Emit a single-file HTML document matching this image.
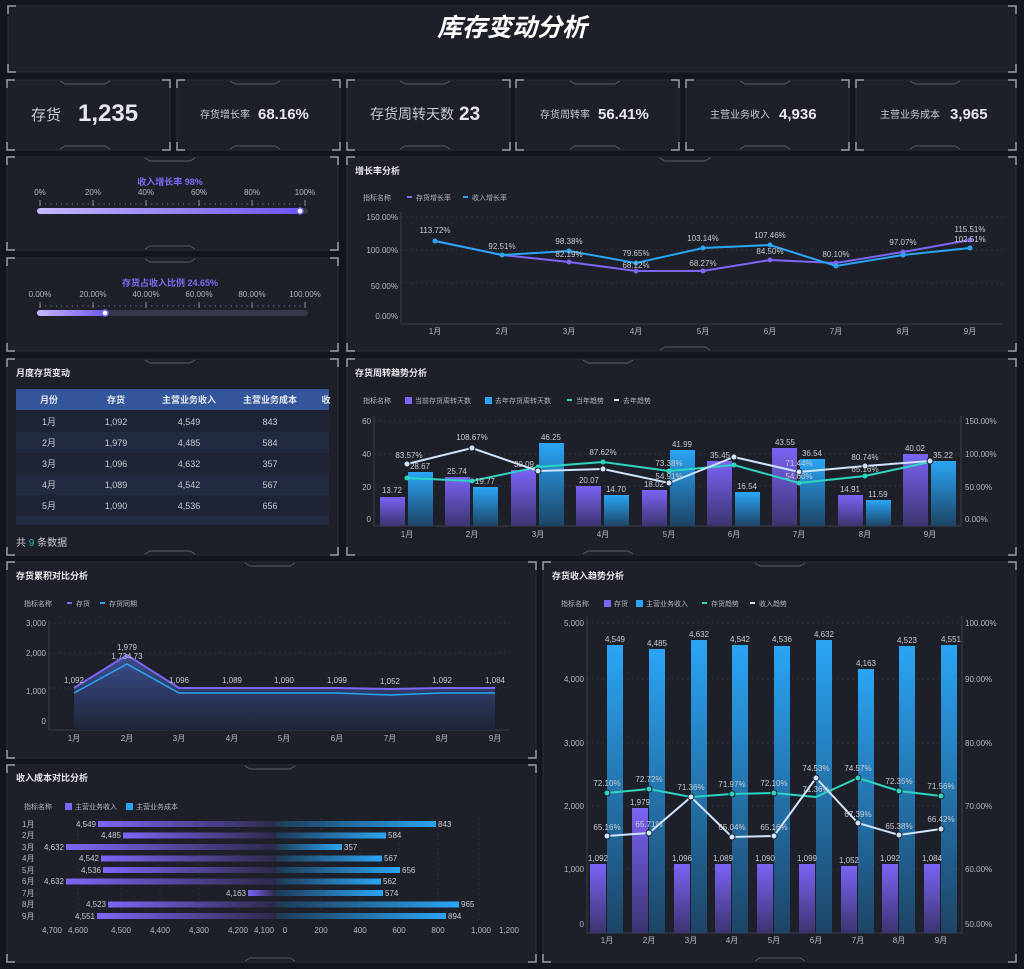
<!DOCTYPE html>
<html><head><meta charset="utf-8">
<style>
html,body{margin:0;padding:0;background:#14161d;}
svg{display:block;font-family:"Liberation Sans","Noto Sans CJK SC",sans-serif;}
.p{fill:#1e2029;stroke:#2b2e38;stroke-width:1}
.c{fill:none;stroke:#9a9da6;stroke-width:1.5}
.t{fill:#e8e8ec;font-size:9px;font-weight:bold}
.ax{fill:#b4b6bd;font-size:8px}
.lg{fill:#b4b6bd;font-size:7px}
.lb{fill:#c8cad0;font-size:8px}
.g{stroke:#2e313b;stroke-width:1;stroke-dasharray:2 3}
.kl{fill:#c8cad0}
.kv{fill:#e6e7ea;font-weight:bold}
</style></head><body>
<svg width="1024" height="969" viewBox="0 0 1024 969">
<defs>
<linearGradient id="gp" x1="0" y1="0" x2="0" y2="1"><stop offset="0" stop-color="#7a63f5"/><stop offset="1" stop-color="#3c3470"/></linearGradient>
<linearGradient id="gb" x1="0" y1="0" x2="0" y2="1"><stop offset="0" stop-color="#2aa5f5"/><stop offset="1" stop-color="#1d4466"/></linearGradient>
<linearGradient id="ga" x1="0" y1="0" x2="0" y2="1"><stop offset="0" stop-color="#3b4f8e"/><stop offset="1" stop-color="#1e2438"/></linearGradient>
<linearGradient id="hl" x1="0" y1="0" x2="1" y2="0"><stop offset="0" stop-color="#7b66f6"/><stop offset="1" stop-color="#2c2a4a"/></linearGradient>
<linearGradient id="hr" x1="0" y1="0" x2="1" y2="0"><stop offset="0" stop-color="#1f3a55"/><stop offset="1" stop-color="#2aa5f5"/></linearGradient>
<linearGradient id="bar" x1="0" y1="0" x2="1" y2="0"><stop offset="0" stop-color="#c6b8ff"/><stop offset="1" stop-color="#6c55f2"/></linearGradient>
</defs>

<!-- panels -->
<g>
<rect class="p" x="8" y="6" width="1008" height="66"/>
<rect class="p" x="7" y="80" width="163" height="70"/>
<rect class="p" x="177" y="80" width="163" height="70"/>
<rect class="p" x="347" y="80" width="163" height="70"/>
<rect class="p" x="516" y="80" width="163" height="70"/>
<rect class="p" x="686" y="80" width="163" height="70"/>
<rect class="p" x="856" y="80" width="160" height="70"/>
<rect class="p" x="7" y="157" width="331" height="93"/>
<rect class="p" x="7" y="258" width="331" height="93"/>
<rect class="p" x="347" y="157" width="669" height="194"/>
<rect class="p" x="7" y="359" width="331" height="196"/>
<rect class="p" x="347" y="359" width="669" height="196"/>
<rect class="p" x="7" y="562" width="529" height="196"/>
<rect class="p" x="7" y="765" width="529" height="197"/>
<rect class="p" x="543" y="562" width="473" height="400"/>
</g>
<!-- corner marks -->
<g class="c">
<path d="M8,14V6H16M1008,6H1016V14M8,64V72H16M1008,72H1016V64"/>
<path d="M7,88V80H15M162,80H170V88M7,142V150H15M162,150H170V142"/>
<path d="M177,88V80H185M332,80H340V88M177,142V150H185M332,150H340V142"/>
<path d="M347,88V80H355M502,80H510V88M347,142V150H355M502,150H510V142"/>
<path d="M516,88V80H524M671,80H679V88M516,142V150H524M671,150H679V142"/>
<path d="M686,88V80H694M841,80H849V88M686,142V150H694M841,150H849V142"/>
<path d="M856,88V80H864M1008,80H1016V88M856,142V150H864M1008,150H1016V142"/>
<path d="M7,165V157H15M330,157H338V165M7,242V250H15M330,250H338V242"/>
<path d="M7,266V258H15M330,258H338V266M7,343V351H15M330,351H338V343"/>
<path d="M347,165V157H355M1008,157H1016V165M347,343V351H355M1008,351H1016V343"/>
<path d="M7,367V359H15M330,359H338V367M7,547V555H15M330,555H338V547"/>
<path d="M347,367V359H355M1008,359H1016V367M347,547V555H355M1008,555H1016V547"/>
<path d="M7,570V562H15M528,562H536V570M7,750V758H15M528,758H536V750"/>
<path d="M7,773V765H15M528,765H536V773M7,954V962H15M528,962H536V954"/>
<path d="M543,570V562H551M1008,562H1016V570M543,954V962H551M1008,962H1016V954"/>
</g>
<g stroke="#5a5d66" fill="none" stroke-width="1">
<path d="M60,81l5,3h40l5,-3M60,149l5,-3h40l5,3M230,81l5,3h40l5,-3M230,149l5,-3h40l5,3M400,81l5,3h40l5,-3M400,149l5,-3h40l5,3M570,81l5,3h40l5,-3M570,149l5,-3h40l5,3M740,81l5,3h40l5,-3M740,149l5,-3h40l5,3M910,81l5,3h40l5,-3M910,149l5,-3h40l5,3"/>
<path d="M145,158l5,3h40l5,-3M145,249l5,-3h40l5,3M145,259l5,3h40l5,-3M145,360l5,3h40l5,-3M145,554l5,-3h40l5,3M660,158l5,3h40l5,-3M660,350l5,-3h40l5,3M583,360l5,3h40l5,-3M583,554l5,-3h40l5,3M245,563l5,3h40l5,-3M245,766l5,3h40l5,-3M245,961l5,-3h40l5,3M755,563l5,3h40l5,-3M755,961l5,-3h40l5,3"/>
</g>

<!-- title -->
<text x="512" y="36" text-anchor="middle" fill="#fff" font-size="25" font-weight="bold" font-style="italic">库存变动分析</text>

<!-- KPIs -->
<text x="31" y="120" class="kl" font-size="15">存货</text>
<text x="78" y="121" class="kv" font-size="24">1,235</text>
<text x="200" y="118" class="kl" font-size="10">存货增长率</text>
<text x="258" y="119" class="kv" font-size="15">68.16%</text>
<text x="370" y="119" class="kl" font-size="14">存货周转天数</text>
<text x="459" y="120" class="kv" font-size="19">23</text>
<text x="540" y="118" class="kl" font-size="10">存货周转率</text>
<text x="598" y="119" class="kv" font-size="15">56.41%</text>
<text x="710" y="118" class="kl" font-size="10">主营业务收入</text>
<text x="779" y="119" class="kv" font-size="15">4,936</text>
<text x="880" y="118" class="kl" font-size="10">主营业务成本</text>
<text x="950" y="119" class="kv" font-size="15">3,965</text>

<!-- gauge 1 -->
<text x="170" y="185" text-anchor="middle" fill="#7b6cf6" font-size="9" font-weight="bold">收入增长率  98%</text>
<g class="ax" text-anchor="middle" font-size="8">
<text x="40" y="195">0%</text><text x="93" y="195">20%</text><text x="146" y="195">40%</text><text x="199" y="195">60%</text><text x="252" y="195">80%</text><text x="305" y="195">100%</text>
<text x="40" y="297">0.00%</text><text x="93" y="297">20.00%</text><text x="146" y="297">40.00%</text><text x="199" y="297">60.00%</text><text x="252" y="297">80.00%</text><text x="305" y="297">100.00%</text>
</g>
<g stroke="#8a8d96" stroke-width="1">
<path d="M40,200v6M93,200v6M146,200v6M199,200v6M252,200v6M305,200v6M40,302v6M93,302v6M146,302v6M199,302v6M252,302v6M305,302v6"/>
<path stroke-dasharray="1 4.3" d="M40,204H305M40,306H305"/>
</g>
<rect x="37" y="208" width="271" height="6" rx="3" fill="#353848"/>
<rect x="37" y="208" width="264" height="6" rx="3" fill="url(#bar)"/>
<circle cx="300" cy="211" r="3" fill="#fff" stroke="#7b6cf6" stroke-width="1.5"/>
<text x="170" y="286" text-anchor="middle" fill="#7b6cf6" font-size="9" font-weight="bold">存货占收入比例  24.65%</text>
<rect x="37" y="310" width="271" height="6" rx="3" fill="#353848"/>
<rect x="37" y="310" width="70" height="6" rx="3" fill="url(#bar)"/>
<circle cx="105" cy="313" r="3" fill="#fff" stroke="#7b6cf6" stroke-width="1.5"/>

<!-- growth chart -->
<text x="355" y="174" class="t">增长率分析</text>
<text x="363" y="200" class="lg">指标名称</text>
<path d="M407,197h5" stroke="#7b66f6" stroke-width="2"/><text x="416" y="200" class="lg">存货增长率</text>
<path d="M463,197h5" stroke="#2aa5f5" stroke-width="2"/><text x="472" y="200" class="lg">收入增长率</text>
<g class="g"><path d="M401,217H1003M401,250H1003M401,283H1003"/></g>
<path d="M401,212V324H1003" stroke="#3a3d48" fill="none"/>
<g class="ax" text-anchor="end"><text x="398" y="220">150.00%</text><text x="398" y="253">100.00%</text><text x="398" y="289">50.00%</text><text x="398" y="319">0.00%</text></g>
<g class="ax" text-anchor="middle"><text x="435" y="334">1月</text><text x="502" y="334">2月</text><text x="569" y="334">3月</text><text x="636" y="334">4月</text><text x="703" y="334">5月</text><text x="770" y="334">6月</text><text x="836" y="334">7月</text><text x="903" y="334">8月</text><text x="970" y="334">9月</text></g>
<polyline fill="none" stroke="#7b66f6" stroke-width="2" points="435,241 502,255 569,262 636,271 703,271 770,260 836,263 903,252 970,240"/>
<polyline fill="none" stroke="#2aa5f5" stroke-width="2" points="435,241 502,255 569,251 636,263 703,248 770,245 836,266 903,255 970,248"/>
<g fill="#7b66f6"><circle cx="569" cy="262" r="2.5"/><circle cx="636" cy="271" r="2.5"/><circle cx="703" cy="271" r="2.5"/><circle cx="770" cy="260" r="2.5"/><circle cx="836" cy="263" r="2.5"/><circle cx="903" cy="252" r="2.5"/><circle cx="970" cy="240" r="2.5"/></g>
<g fill="#2aa5f5"><circle cx="435" cy="241" r="2.5"/><circle cx="502" cy="255" r="2.5"/><circle cx="569" cy="251" r="2.5"/><circle cx="636" cy="263" r="2.5"/><circle cx="703" cy="248" r="2.5"/><circle cx="770" cy="245" r="2.5"/><circle cx="836" cy="266" r="2.5"/><circle cx="903" cy="255" r="2.5"/><circle cx="970" cy="248" r="2.5"/></g>
<g class="lb" text-anchor="middle">
<text x="435" y="233">113.72%</text><text x="502" y="249">92.51%</text><text x="569" y="244">98.38%</text><text x="569" y="257">82.19%</text><text x="636" y="256">79.65%</text><text x="636" y="268">68.12%</text><text x="703" y="241">103.14%</text><text x="703" y="266">68.27%</text><text x="770" y="238">107.46%</text><text x="770" y="254">84.50%</text><text x="836" y="257">80.10%</text><text x="903" y="245">97.07%</text><text x="970" y="232">115.51%</text><text x="970" y="242">102.51%</text>
</g>

<!-- table -->
<text x="16" y="376" class="t">月度存货变动</text>
<rect x="16" y="389" width="313" height="21" fill="#33569a"/>
<rect x="16" y="410" width="313" height="22" fill="#1e2335"/>
<rect x="16" y="432" width="313" height="21" fill="#222a42"/>
<rect x="16" y="453" width="313" height="21" fill="#1e2335"/>
<rect x="16" y="474" width="313" height="21" fill="#222a42"/>
<rect x="16" y="495" width="313" height="21" fill="#1e2335"/>
<rect x="16" y="516" width="313" height="9" fill="#222a42"/>
<g fill="#e8e8ee" font-size="9" font-weight="bold" text-anchor="middle"><text x="49" y="403">月份</text><text x="116" y="403">存货</text><text x="189" y="403">主营业务收入</text><text x="270" y="403">主营业务成本</text><text x="326" y="403">收</text></g>
<g fill="#c8cad0" font-size="9" text-anchor="middle">
<text x="49" y="425">1月</text><text x="116" y="425">1,092</text><text x="189" y="425">4,549</text><text x="270" y="425">843</text>
<text x="49" y="446">2月</text><text x="116" y="446">1,979</text><text x="189" y="446">4,485</text><text x="270" y="446">584</text>
<text x="49" y="467">3月</text><text x="116" y="467">1,096</text><text x="189" y="467">4,632</text><text x="270" y="467">357</text>
<text x="49" y="488">4月</text><text x="116" y="488">1,089</text><text x="189" y="488">4,542</text><text x="270" y="488">567</text>
<text x="49" y="509">5月</text><text x="116" y="509">1,090</text><text x="189" y="509">4,536</text><text x="270" y="509">656</text>
</g>
<text x="16" y="546" fill="#c8cad0" font-size="10">共 <tspan fill="#20c0c0">9</tspan> 条数据</text>

<!-- turnover chart -->
<text x="355" y="376" class="t">存货周转趋势分析</text>
<text x="363" y="403" class="lg">指标名称</text>
<rect x="405" y="397" width="7" height="7" fill="#7b66f6"/><text x="415" y="403" class="lg">当前存货周转天数</text>
<rect x="485" y="397" width="7" height="7" fill="#2aa5f5"/><text x="495" y="403" class="lg">去年存货周转天数</text>
<path d="M567,400h5" stroke="#2dd4bf" stroke-width="2"/><text x="576" y="403" class="lg">当年趋势</text>
<path d="M614,400h5" stroke="#cfe4ff" stroke-width="2"/><text x="623" y="403" class="lg">去年趋势</text>
<g class="g"><path d="M374,421H961M374,454H961M374,486H961"/></g>
<path d="M374,416V526H961V416" stroke="#3a3d48" fill="none"/>
<g class="ax" text-anchor="end"><text x="371" y="424">60</text><text x="371" y="457">40</text><text x="371" y="490">20</text><text x="371" y="522">0</text></g>
<g class="ax"><text x="965" y="424">150.00%</text><text x="965" y="457">100.00%</text><text x="965" y="490">50.00%</text><text x="965" y="522">0.00%</text></g>
<g class="ax" text-anchor="middle"><text x="407" y="537">1月</text><text x="472" y="537">2月</text><text x="538" y="537">3月</text><text x="603" y="537">4月</text><text x="669" y="537">5月</text><text x="734" y="537">6月</text><text x="799" y="537">7月</text><text x="865" y="537">8月</text><text x="930" y="537">9月</text></g>
<g fill="url(#gp)">
<rect x="380" y="497" width="25" height="29"/><rect x="445" y="477" width="25" height="49"/><rect x="511" y="470" width="25" height="56"/><rect x="576" y="486" width="25" height="40"/><rect x="642" y="490" width="25" height="36"/><rect x="707" y="461" width="25" height="65"/><rect x="772" y="448" width="25" height="78"/><rect x="838" y="495" width="25" height="31"/><rect x="903" y="454" width="25" height="72"/>
</g>
<g fill="url(#gb)">
<rect x="408" y="472" width="25" height="54"/><rect x="473" y="487" width="25" height="39"/><rect x="539" y="443" width="25" height="83"/><rect x="604" y="495" width="25" height="31"/><rect x="670" y="450" width="25" height="76"/><rect x="735" y="492" width="25" height="34"/><rect x="800" y="459" width="25" height="67"/><rect x="866" y="500" width="25" height="26"/><rect x="931" y="461" width="25" height="65"/>
</g>
<polyline fill="none" stroke="#2dd4bf" stroke-width="2" points="407,478 472,481 538,467 603,462 669,471 734,465 799,483 865,476 930,462"/>
<polyline fill="none" stroke="#cfe4ff" stroke-width="2" points="407,464 472,448 538,471 603,469 669,483 734,457 799,472 865,466 930,461"/>
<g fill="#2dd4bf"><circle cx="407" cy="478" r="2.5"/><circle cx="472" cy="481" r="2.5"/><circle cx="538" cy="467" r="2.5"/><circle cx="603" cy="462" r="2.5"/><circle cx="669" cy="471" r="2.5"/><circle cx="734" cy="465" r="2.5"/><circle cx="799" cy="483" r="2.5"/><circle cx="865" cy="476" r="2.5"/><circle cx="930" cy="462" r="2.5"/></g>
<g fill="#cfe4ff" stroke="#1e2029"><circle cx="407" cy="464" r="3"/><circle cx="472" cy="448" r="3"/><circle cx="538" cy="471" r="3"/><circle cx="603" cy="469" r="3"/><circle cx="669" cy="483" r="3"/><circle cx="734" cy="457" r="3"/><circle cx="799" cy="472" r="3"/><circle cx="865" cy="466" r="3"/><circle cx="930" cy="461" r="3"/></g>
<g class="lb" text-anchor="middle">
<text x="392" y="493">13.72</text><text x="420" y="469">28.67</text><text x="457" y="474">25.74</text><text x="485" y="484">19.77</text><text x="524" y="467">30.09</text><text x="551" y="440">46.25</text><text x="589" y="483">20.07</text><text x="616" y="492">14.70</text><text x="654" y="487">18.02</text><text x="682" y="447">41.99</text><text x="720" y="458">35.45</text><text x="747" y="489">16.54</text><text x="785" y="445">43.55</text><text x="812" y="456">36.54</text><text x="850" y="492">14.91</text><text x="878" y="497">11.59</text><text x="915" y="451">40.02</text><text x="943" y="458">35.22</text>
<text x="409" y="458">83.57%</text><text x="472" y="440">108.67%</text><text x="603" y="455">87.62%</text><text x="669" y="466">73.38%</text><text x="669" y="479">54.91%</text><text x="799" y="466">71.44%</text><text x="799" y="479">54.60%</text><text x="865" y="460">80.74%</text><text x="865" y="472">65.16%</text>
</g>

<!-- cumulative -->
<text x="16" y="579" class="t">存货累积对比分析</text>
<text x="24" y="606" class="lg">指标名称</text>
<path d="M67,603h5" stroke="#7b66f6" stroke-width="2"/><text x="76" y="606" class="lg">存货</text>
<path d="M100,603h5" stroke="#2aa5f5" stroke-width="2"/><text x="109" y="606" class="lg">存货同期</text>
<g class="g"><path d="M49,623H510M49,653H510M49,688H510"/></g>
<path d="M49,620V730H510" stroke="#3a3d48" fill="none"/>
<g class="ax" text-anchor="end"><text x="46" y="626">3,000</text><text x="46" y="656">2,000</text><text x="46" y="694">1,000</text><text x="46" y="724">0</text></g>
<g class="ax" text-anchor="middle"><text x="74" y="741">1月</text><text x="127" y="741">2月</text><text x="179" y="741">3月</text><text x="232" y="741">4月</text><text x="284" y="741">5月</text><text x="337" y="741">6月</text><text x="390" y="741">7月</text><text x="442" y="741">8月</text><text x="495" y="741">9月</text></g>
<polygon fill="url(#ga)" points="74,689 127,655 179,688 232,688 284,688 337,688 390,689 442,688 495,688 495,730 74,730"/>
<polyline fill="none" stroke="#7b66f6" stroke-width="2" points="74,688 127,655 179,688 232,688 284,688 337,688 390,689 442,688 495,688"/>
<polyline fill="none" stroke="#2aa5f5" stroke-width="1.5" points="74,693 127,664 179,693 232,693 284,693 337,693 390,695 442,693 495,693"/>
<g class="lb" text-anchor="middle"><text x="74" y="683">1,092</text><text x="127" y="650">1,979</text><text x="127" y="659">1,734.73</text><text x="179" y="683">1,096</text><text x="232" y="683">1,089</text><text x="284" y="683">1,090</text><text x="337" y="683">1,099</text><text x="390" y="684">1,052</text><text x="442" y="683">1,092</text><text x="495" y="683">1,084</text></g>

<!-- income cost -->
<text x="16" y="781" class="t">收入成本对比分析</text>
<text x="24" y="809" class="lg">指标名称</text>
<rect x="65" y="803" width="7" height="7" fill="#7b66f6"/><text x="75" y="809" class="lg">主营业务收入</text>
<rect x="126" y="803" width="7" height="7" fill="#2aa5f5"/><text x="136" y="809" class="lg">主营业务成本</text>
<g stroke="#2a2d36" stroke-dasharray="2 3"><path d="M78,818V922M121,818V922M160,818V922M199,818V922M238,818V922M321,818V922M360,818V922M399,818V922M438,818V922M479,818V922"/></g>
<g class="ax"><text x="22" y="827">1月</text><text x="22" y="838">2月</text><text x="22" y="850">3月</text><text x="22" y="861">4月</text><text x="22" y="873">5月</text><text x="22" y="884">6月</text><text x="22" y="896">7月</text><text x="22" y="907">8月</text><text x="22" y="919">9月</text></g>
<g fill="url(#hl)">
<rect x="98" y="821" width="178" height="6"/><rect x="123" y="832.5" width="153" height="6"/><rect x="66" y="844" width="210" height="6"/><rect x="101" y="855.5" width="175" height="6"/><rect x="103" y="867" width="173" height="6"/><rect x="66" y="878.5" width="210" height="6"/><rect x="248" y="890" width="28" height="6"/><rect x="108" y="901.5" width="168" height="6"/><rect x="97" y="913" width="179" height="6"/>
</g>
<g fill="url(#hr)">
<rect x="276" y="821" width="160" height="6"/><rect x="276" y="832.5" width="110" height="6"/><rect x="276" y="844" width="66" height="6"/><rect x="276" y="855.5" width="106" height="6"/><rect x="276" y="867" width="124" height="6"/><rect x="276" y="878.5" width="105" height="6"/><rect x="276" y="890" width="107" height="6"/><rect x="276" y="901.5" width="183" height="6"/><rect x="276" y="913" width="170" height="6"/>
</g>
<g class="lb" text-anchor="end"><text x="96" y="827">4,549</text><text x="121" y="838">4,485</text><text x="64" y="850">4,632</text><text x="99" y="861">4,542</text><text x="101" y="873">4,536</text><text x="64" y="884">4,632</text><text x="246" y="896">4,163</text><text x="106" y="907">4,523</text><text x="95" y="919">4,551</text></g>
<g class="lb"><text x="438" y="827">843</text><text x="388" y="838">584</text><text x="344" y="850">357</text><text x="384" y="861">567</text><text x="402" y="873">656</text><text x="383" y="884">562</text><text x="385" y="896">574</text><text x="461" y="907">965</text><text x="448" y="919">894</text></g>
<g class="ax" text-anchor="middle"><text x="52" y="933">4,700</text><text x="78" y="933">4,600</text><text x="121" y="933">4,500</text><text x="160" y="933">4,400</text><text x="199" y="933">4,300</text><text x="238" y="933">4,200</text><text x="264" y="933">4,100</text><text x="285" y="933">0</text><text x="321" y="933">200</text><text x="360" y="933">400</text><text x="399" y="933">600</text><text x="438" y="933">800</text><text x="481" y="933">1,000</text><text x="509" y="933">1,200</text></g>

<!-- inventory income chart -->
<text x="552" y="579" class="t">存货收入趋势分析</text>
<text x="561" y="606" class="lg">指标名称</text>
<rect x="604" y="600" width="7" height="7" fill="#7b66f6"/><text x="614" y="606" class="lg">存货</text>
<rect x="636" y="600" width="7" height="7" fill="#2aa5f5"/><text x="646" y="606" class="lg">主营业务收入</text>
<path d="M702,603h5" stroke="#2dd4bf" stroke-width="2"/><text x="711" y="606" class="lg">存货趋势</text>
<path d="M750,603h5" stroke="#cfe4ff" stroke-width="2"/><text x="759" y="606" class="lg">收入趋势</text>
<g class="g"><path d="M587,623H962M587,679H962M587,743H962M587,806H962M587,869H962"/></g>
<path d="M587,616V933H962V616" stroke="#3a3d48" fill="none"/>
<g class="ax" text-anchor="end"><text x="584" y="626">5,000</text><text x="584" y="682">4,000</text><text x="584" y="746">3,000</text><text x="584" y="809">2,000</text><text x="584" y="872">1,000</text><text x="584" y="927">0</text></g>
<g class="ax"><text x="965" y="626">100.00%</text><text x="965" y="682">90.00%</text><text x="965" y="746">80.00%</text><text x="965" y="809">70.00%</text><text x="965" y="872">60.00%</text><text x="965" y="927">50.00%</text></g>
<g class="ax" text-anchor="middle"><text x="607" y="943">1月</text><text x="649" y="943">2月</text><text x="691" y="943">3月</text><text x="732" y="943">4月</text><text x="774" y="943">5月</text><text x="816" y="943">6月</text><text x="858" y="943">7月</text><text x="899" y="943">8月</text><text x="941" y="943">9月</text></g>
<g fill="url(#gp)">
<rect x="590" y="864" width="16" height="69"/><rect x="632" y="808" width="16" height="125"/><rect x="674" y="864" width="16" height="69"/><rect x="715" y="864" width="16" height="69"/><rect x="757" y="864" width="16" height="69"/><rect x="799" y="864" width="16" height="69"/><rect x="841" y="866" width="16" height="67"/><rect x="882" y="864" width="16" height="69"/><rect x="924" y="864" width="16" height="69"/>
</g>
<g fill="url(#gb)">
<rect x="607" y="645" width="16" height="288"/><rect x="649" y="649" width="16" height="284"/><rect x="691" y="640" width="16" height="293"/><rect x="732" y="645" width="16" height="288"/><rect x="774" y="646" width="16" height="287"/><rect x="816" y="640" width="16" height="293"/><rect x="858" y="669" width="16" height="264"/><rect x="899" y="646" width="16" height="287"/><rect x="941" y="645" width="16" height="288"/>
</g>
<polyline fill="none" stroke="#2dd4bf" stroke-width="2" points="607,793 649,789 691,797 732,794 774,793 816,797 858,778 899,791 941,796"/>
<polyline fill="none" stroke="#cfe4ff" stroke-width="2" points="607,836 649,833 691,797 732,837 774,836 816,778 858,823 899,835 941,829"/>
<g fill="#2dd4bf" stroke="#1e2029"><circle cx="607" cy="793" r="3"/><circle cx="649" cy="789" r="3"/><circle cx="732" cy="794" r="3"/><circle cx="774" cy="793" r="3"/><circle cx="858" cy="778" r="3"/><circle cx="899" cy="791" r="3"/><circle cx="941" cy="796" r="3"/></g>
<g fill="#cfe4ff" stroke="#1e2029"><circle cx="607" cy="836" r="3"/><circle cx="649" cy="833" r="3"/><circle cx="691" cy="797" r="3"/><circle cx="732" cy="837" r="3"/><circle cx="774" cy="836" r="3"/><circle cx="816" cy="778" r="3"/><circle cx="858" cy="823" r="3"/><circle cx="899" cy="835" r="3"/><circle cx="941" cy="829" r="3"/></g>
<g class="lb" text-anchor="middle">
<text x="615" y="642">4,549</text><text x="657" y="646">4,485</text><text x="699" y="637">4,632</text><text x="740" y="642">4,542</text><text x="782" y="642">4,536</text><text x="824" y="637">4,632</text><text x="866" y="666">4,163</text><text x="907" y="643">4,523</text><text x="951" y="642">4,551</text>
<text x="598" y="861">1,092</text><text x="640" y="805">1,979</text><text x="682" y="861">1,096</text><text x="723" y="861">1,089</text><text x="765" y="861">1,090</text><text x="807" y="861">1,099</text><text x="849" y="863">1,052</text><text x="890" y="861">1,092</text><text x="932" y="861">1,084</text>
<text x="607" y="786">72.10%</text><text x="649" y="782">72.72%</text><text x="691" y="790">71.36%</text><text x="732" y="787">71.97%</text><text x="774" y="786">72.10%</text><text x="816" y="792">71.36%</text><text x="858" y="771">74.57%</text><text x="899" y="784">72.35%</text><text x="941" y="789">71.56%</text>
<text x="607" y="830">65.16%</text><text x="649" y="827">65.71%</text><text x="732" y="830">65.04%</text><text x="774" y="830">65.16%</text><text x="816" y="771">74.53%</text><text x="858" y="817">67.39%</text><text x="899" y="829">65.38%</text><text x="941" y="822">66.42%</text>
</g>
</svg>
</body></html>
